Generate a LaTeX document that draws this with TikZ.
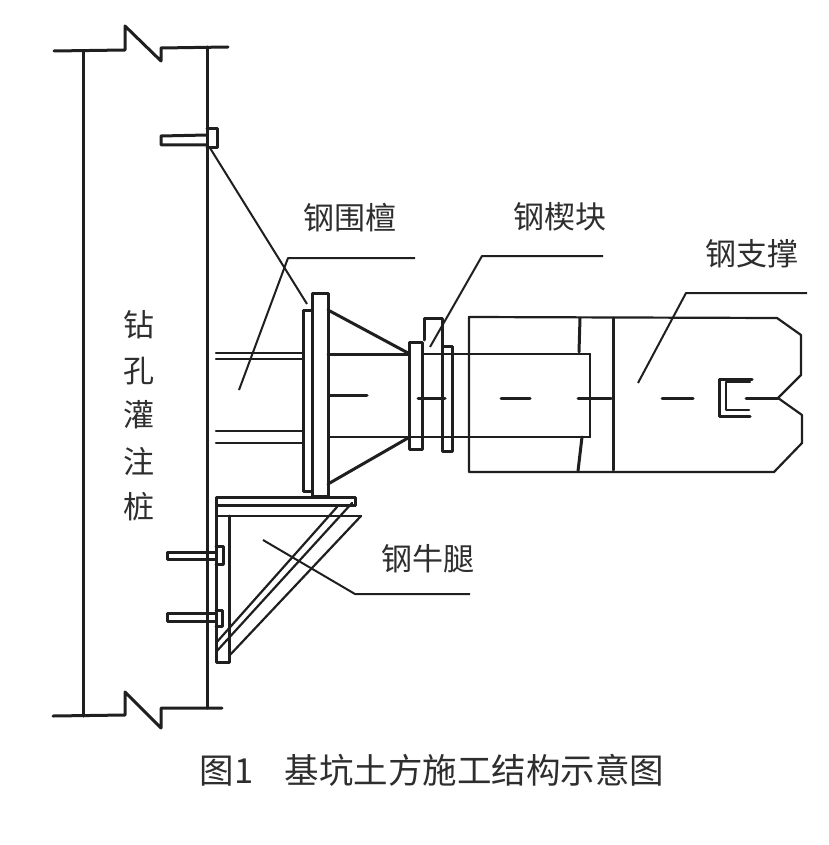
\documentclass[tikz,border=0pt]{standalone}
\usepackage{fontspec}
\usepackage{tikz}
\usetikzlibrary{positioning, calc}
\setmainfont{Noto Sans CJK SC}

\tikzset{
	part/.style={line width=3pt, line join=round, line cap=round, draw=black!88},
	fine/.style={line width=2.2pt, line join=round, line cap=round, draw=black!88},
	leader/.style={line width=2pt, line join=round, draw=black!88},
	label/.style={font=\fontsize{31}{31}\selectfont, text=black!82, inner sep=0pt},
}

\begin{document}
\begin{tikzpicture}[x=1pt, y=-1pt]
	\useasboundingbox (0,0) rectangle (828,845);
	% pile
	\draw[part] (54,51) -- (125,50) -- (125,26) -- (161,61) -- (161,48) -- (228,47);
	\draw[part] (53,716) -- (125,715) -- (125,692) -- (161,728) -- (161,708) -- (222,708);
	\draw[part] (83,51) -- (83,716);
	\draw[part] (207,47) -- (207,708);
	\draw[part] (207,135) -- (161,136) -- (161,145) -- (207,145);
	\draw[part] (207,129) -- (217,129) -- (217,148) -- (207,148);
	% waler
	\draw[part] (312,293) rectangle (328,496);
	\draw[part] (312,310) -- (303,310) -- (303,491) -- (312,491);
	\draw[fine] (216,353) -- (303,353);
	\draw[fine] (216,359) -- (303,359);
	\draw[fine] (216,431) -- (303,431);
	\draw[fine] (216,443) -- (303,443);
	% cone and flanges
	\draw[part] (328,310) -- (408,353);
	\draw[part] (328,484) -- (408,438);
	\draw[part] (328,354) -- (409,354);
	\draw[fine] (422,354) -- (590,354);
	\draw[fine] (328,437) -- (590,437);
	\draw[part] (409,342) rectangle (422,449);
	\draw[part] (442,346) rectangle (452,451);
	\draw[part] (424,340) -- (424,318) -- (442,318) -- (442,346);
	\draw[part] (329,395) -- (367,395);
	\draw[part] (418,398) -- (445,398);
	\draw[part] (501,398) -- (530,398);
	% steel strut
	\draw[fine] (469,317) -- (777,318) -- (801,335) -- (801,375) -- (778,398) -- (802,415) -- (802,443) -- (774,472) -- (469,472) -- cycle;
	\draw[part] (613,318) -- (613,470);
	\draw[part] (580,318) -- (579,352);
	\draw[part] (582,437) -- (578,471);
	\draw[fine] (590,354) -- (590,437);
	\draw[part] (578,398) -- (611,398);
	\draw[part] (662,398) -- (693,398);
	\draw[part] (746,398) -- (778,398);
	\draw[part] (752,379) -- (719,379) -- (719,416) -- (750,416);
	\draw[fine] (750,382) -- (726,382) -- (726,410) -- (749,410);
	% bracket
	\draw[part] (216,497) rectangle (355,505);
	\draw[fine] (216,505) -- (216,516) -- (361,516);
	\draw[part] (216,505) -- (216,662) -- (229,662) -- (229,516);
	\draw[fine] (337,507) -- (216,643);
	\draw[fine] (352,503) -- (216,652);
	\draw[fine] (361,516) -- (229,656);
	\draw[part] (216,552) -- (167,552) -- (167,559) -- (216,559);
	\draw[part] (216,546) -- (223,546) -- (223,564) -- (216,564);
	\draw[part] (216,613) -- (167,613) -- (167,621) -- (216,621);
	\draw[part] (216,610) -- (222,610) -- (222,626) -- (216,626);
	% labels
	\node[label] (waler) at (350,218) {钢围檀};
	\node[label] (wedge) at (560,217) {钢楔块};
	\node[label] (strut) at (752,254) {钢支撑};
	\node[label] (corbel) at (428,559) {钢牛腿};
	\node[label] (pile1) at (139,325) {钻};
	\node[label] (pile2) at (139,371) {孔};
	\node[label] (pile3) at (139,415) {灌};
	\node[label] (pile4) at (139,461) {注};
	\node[label] (pile5) at (139,507) {桩};
	\node[label, font=\fontsize{34.5}{34.5}\selectfont] (caption) at (432,770) {图1\hspace{0.9em}基坑土方施工结构示意图};
	% leaders
	\coordinate (walerend) at (415,258);
	\coordinate (walertip) at (239,390);
	\coordinate (wedgeend) at (603,256);
	\coordinate (wedgetip) at (430,347);
	\coordinate (strutend) at (807,293);
	\coordinate (struttip) at (638,383);
	\coordinate (corbelend) at (470,594);
	\coordinate (corbeltip) at (263,540);
	\coordinate (plateend) at (307,304);
	\coordinate (platetip) at (210,148);
	\draw[leader] (walerend) -- (288,258) -- (walertip);
	\draw[leader] (wedgeend) -- (482,256) -- (wedgetip);
	\draw[leader] (strutend) -- (686,293) -- (struttip);
	\draw[leader] (corbelend) -- (355,594) -- (corbeltip);
	\draw[leader] (platetip) -- (plateend);
\end{tikzpicture}
\end{document}
